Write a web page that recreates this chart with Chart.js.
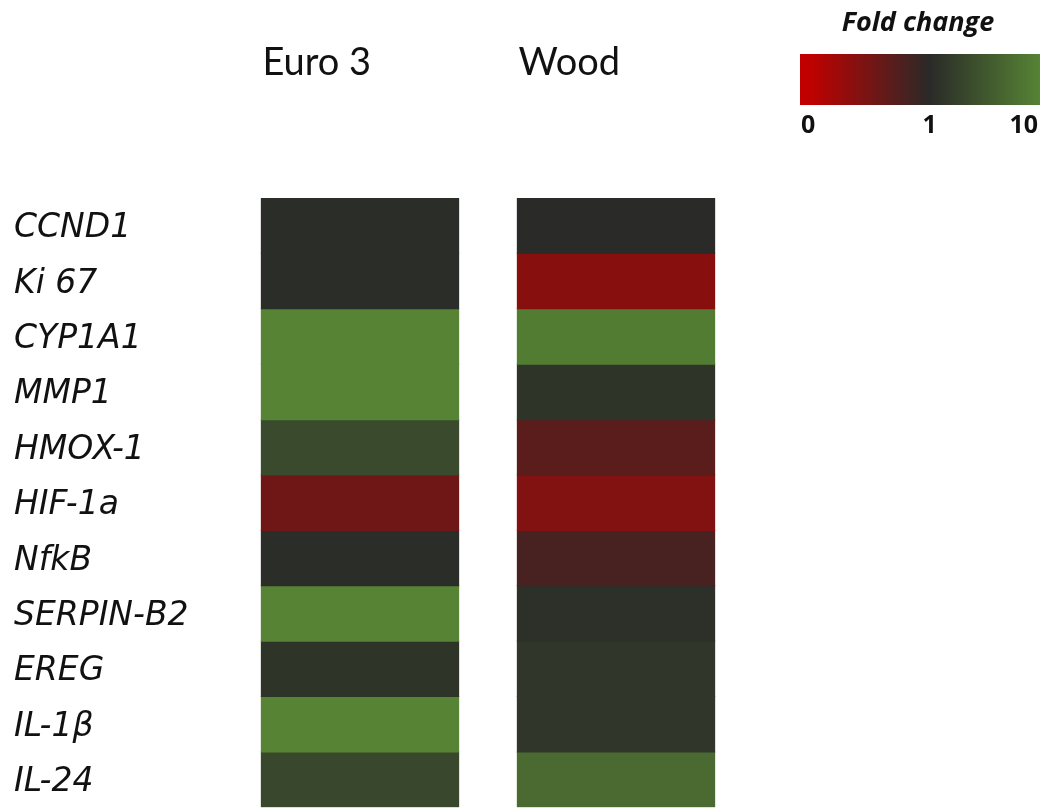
<!DOCTYPE html>
<html>
<head>
<meta charset="utf-8">
<title>Fold change heatmap</title>
<script src="https://cdn.jsdelivr.net/npm/chart.js@4.4.1/dist/chart.umd.min.js"></script>
<style>
  html, body { margin: 0; padding: 0; background: #fff; overflow: hidden; }
  #wrap { width: 1044px; height: 830px; }
</style>
</head>
<body>
<div id="wrap"><canvas id="heatmap" width="1044" height="830"></canvas></div>
<script>
// genes (rows, top to bottom) and conditions (columns)
const genes = ["CCND1", "Ki 67", "CYP1A1", "MMP1", "HMOX-1", "HIF-1a", "NfkB", "SERPIN-B2", "EREG", "IL-1\u03B2", "IL-24"];
const conditions = ["Euro 3", "Wood"];

// fold change per gene
const euro3 = [1.3, 1.3, 10, 10, 4.2, 0.55, 1.3, 10, 2.0, 10, 4.0];
const wood = [1.0, 0.38, 9.3, 2.0, 0.68, 0.42, 0.8, 1.6, 2.3, 2.3, 7.5];

const legendTicks = [0, 1, 10];

// colour scale: red (0) -> dark (1) -> green (10)
const LOW = [192, 0, 0];
const MID = [42, 42, 40];
const HIGH = [86, 131, 52];
const MID_STOP = 0.54;

function mix(a, b, t) {
  return a.map((v, i) => Math.round(v + (b[i] - v) * t));
}

function foldColor(v) {
  let c;
  if (v <= 1) c = mix(LOW, MID, Math.max(0, v));
  else c = mix(MID, HIGH, Math.min(1, (v - 1) / 9));
  return `rgb(${c[0]}, ${c[1]}, ${c[2]})`;
}

const rowValues = genes.map((g, i) => [euro3[i], wood[i]]);

// column headers, left-aligned over each column
const headerPlugin = {
  id: "headers",
  afterDraw(chart) {
    const ctx = chart.ctx;
    const meta = chart.getDatasetMeta(0);
    ctx.save();
    ctx.font = "38px Lato, sans-serif";
    ctx.fillStyle = "#111";
    ctx.textAlign = "left";
    ctx.textBaseline = "alphabetic";
    meta.data.forEach((bar, i) => {
      ctx.fillText(conditions[i], bar.x - bar.width / 2 + 1, 75);
    });
    ctx.restore();
  }
};

// colour key in the top right corner
const keyPlugin = {
  id: "foldKey",
  afterDraw(chart) {
    const ctx = chart.ctx;
    const left = 800, right = 1040, top = 54, bottom = 105;
    ctx.save();
    ctx.font = "italic bold 27px 'Open Sans', sans-serif";
    ctx.fillStyle = "#111";
    ctx.textAlign = "center";
    ctx.textBaseline = "alphabetic";
    ctx.fillText("Fold change", 918, 31);

    const grad = ctx.createLinearGradient(left, 0, right, 0);
    grad.addColorStop(0, foldColor(0));
    grad.addColorStop(0.04, foldColor(0));
    grad.addColorStop(MID_STOP, foldColor(1));
    grad.addColorStop(1, foldColor(10));
    ctx.fillStyle = grad;
    ctx.fillRect(left, top, right - left, bottom - top);

    ctx.font = "bold 25px 'Open Sans', sans-serif";
    ctx.fillStyle = "#111";
    legendTicks.forEach(t => {
      const pos = t <= 1 ? t * MID_STOP : MID_STOP + (t - 1) / 9 * (1 - MID_STOP);
      let x = left + pos * (right - left);
      if (t === legendTicks[0]) { ctx.textAlign = "left"; x += 1; }
      else if (t === legendTicks[legendTicks.length - 1]) { ctx.textAlign = "right"; x -= 2; }
      else { ctx.textAlign = "center"; }
      ctx.fillText(String(t), x, 133);
    });
    ctx.restore();
  }
};

new Chart(document.getElementById("heatmap"), {
  type: "bar",
  data: {
    labels: conditions,
    datasets: genes.map((g, i) => ({
      label: g,
      data: conditions.map(() => 1),
      backgroundColor: rowValues[i].map(foldColor),
      borderWidth: 0,
      inflateAmount: 0.6,
      barPercentage: 1,
      categoryPercentage: 0.77,
      stack: "rows"
    }))
  },
  options: {
    responsive: false,
    animation: false,
    devicePixelRatio: 1,
    layout: { padding: { top: 198, right: 300, bottom: 16, left: 14 } },
    plugins: {
      legend: { display: false },
      tooltip: {
        callbacks: {
          label: ctx => `${ctx.dataset.label}: ${rowValues[ctx.datasetIndex][ctx.dataIndex]}`
        }
      }
    },
    scales: {
      x: {
        type: "category",
        stacked: true,
        display: false
      },
      y: {
        type: "linear",
        stacked: true,
        min: 0,
        max: genes.length,
        reverse: true,
        display: false
      },
      yGene: {
        type: "category",
        labels: genes,
        position: "left",
        offset: true,
        grid: { display: false },
        border: { display: false },
        ticks: {
          crossAlign: "far",
          labelOffset: 3,
          color: "#111",
          font: { family: "'DejaVu Sans', sans-serif", style: "italic", size: 33 },
          autoSkip: false
        },
        afterFit(scale) { scale.width = 218; }
      }
    }
  },
  plugins: [headerPlugin, keyPlugin]
});
</script>
</body>
</html>
